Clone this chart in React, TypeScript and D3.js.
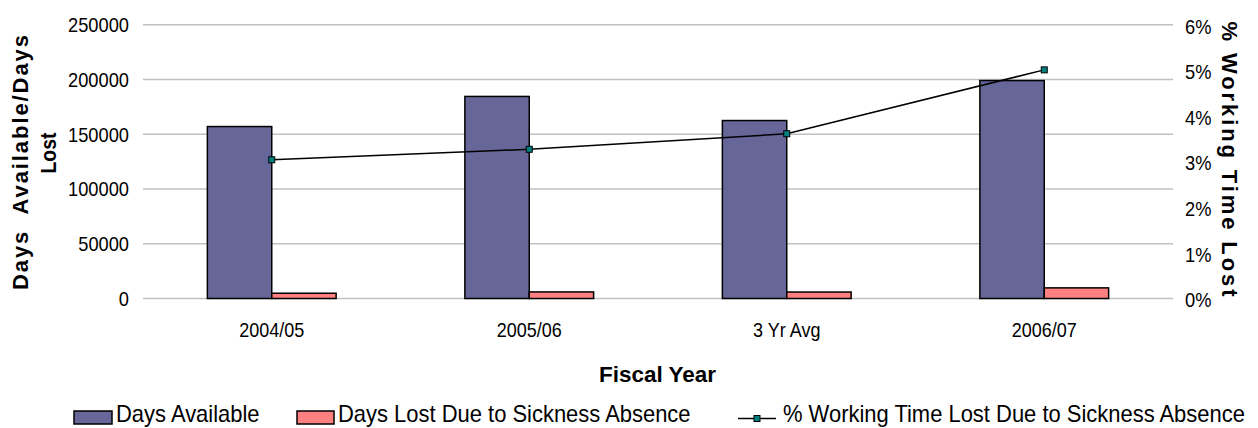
import React, { useEffect, useRef } from "react";
import * as d3 from "d3";

const categories = ["2004/05", "2005/06", "3 Yr Avg", "2006/07"];
const daysAvailable = [157000, 184500, 162500, 199000];
const daysLost = [4800, 6000, 5900, 9700];
const pctLost = [0.0304, 0.0327, 0.0361, 0.0501];
const leftTicks = [0, 50000, 100000, 150000, 200000, 250000];
const rightTicks = [0, 0.01, 0.02, 0.03, 0.04, 0.05, 0.06];

const W = 1258;
const H = 428;
const FONT = "'Liberation Sans', Arial, sans-serif";
const BLUE = "#666699";
const PINK = "#FF8080";
const TEAL = "#008080";

const App: React.FC = () => {
  const ref = useRef<SVGSVGElement | null>(null);

  useEffect(() => {
    if (!ref.current) return;
    document.body.style.margin = "0";
    const svg = d3.select(ref.current);
    svg.selectAll("*").remove();

    const plot = { left: 143, right: 1173, top: 24.7, bottom: 298.5 };

    const x = d3
      .scaleBand<string>()
      .domain(categories)
      .range([plot.left, plot.right])
      .paddingInner(0.5)
      .paddingOuter(0.25);
    const sub = d3
      .scaleBand<string>()
      .domain(["avail", "lost"])
      .range([0, x.bandwidth()]);
    const y = d3.scaleLinear().domain([0, 250000]).range([plot.bottom, plot.top]);
    const y2 = d3.scaleLinear().domain([0, 0.06]).range([plot.bottom, plot.top]);

    // narrow-ish text like the Excel original: scale glyphs horizontally
    const narrowText = (
      px: number,
      py: number,
      label: string,
      size: number,
      sx: number,
      anchor = "start",
      dy = "0"
    ) => {
      svg
        .append("g")
        .attr("transform", `translate(${px},${py}) scale(${sx},1)`)
        .append("text")
        .attr("text-anchor", anchor)
        .attr("dy", dy)
        .style("font-family", FONT)
        .style("font-size", `${size}px`)
        .text(label);
    };

    // gridlines
    svg
      .append("g")
      .selectAll("line")
      .data(leftTicks)
      .join("line")
      .attr("x1", plot.left)
      .attr("x2", plot.right)
      .attr("y1", (d) => y(d))
      .attr("y2", (d) => y(d))
      .attr("stroke", "#c0c0c0")
      .attr("stroke-width", 1.6);

    // tick labels
    leftTicks.forEach((t) => narrowText(129, y(t), String(t), 21, 0.87, "end", "0.35em"));
    rightTicks.forEach((t) =>
      narrowText(1185, y2(t) + 1.5, `${Math.round(t * 100)}%`, 21, 0.87, "start", "0.35em")
    );

    // bars
    const bars = svg.append("g");
    categories.forEach((c, i) => {
      const x0 = x(c) ?? 0;
      bars
        .append("rect")
        .attr("x", x0 + (sub("avail") ?? 0))
        .attr("y", y(daysAvailable[i]))
        .attr("width", sub.bandwidth())
        .attr("height", y(0) - y(daysAvailable[i]))
        .attr("fill", BLUE)
        .attr("stroke", "#000")
        .attr("stroke-width", 1.5);
      bars
        .append("rect")
        .attr("x", x0 + (sub("lost") ?? 0))
        .attr("y", y(daysLost[i]))
        .attr("width", sub.bandwidth())
        .attr("height", y(0) - y(daysLost[i]))
        .attr("fill", PINK)
        .attr("stroke", "#000")
        .attr("stroke-width", 1.5);
    });

    // line series
    const cx = (c: string) => (x(c) ?? 0) + x.bandwidth() / 2;
    const line = d3
      .line<number>()
      .x((_, i) => cx(categories[i]))
      .y((d) => y2(d));
    svg
      .append("path")
      .datum(pctLost)
      .attr("d", line)
      .attr("fill", "none")
      .attr("stroke", "#000")
      .attr("stroke-width", 1.5);
    svg
      .append("g")
      .selectAll("rect")
      .data(pctLost)
      .join("rect")
      .attr("x", (_, i) => cx(categories[i]) - 3)
      .attr("y", (d) => y2(d) - 3)
      .attr("width", 6)
      .attr("height", 6)
      .attr("fill", TEAL)
      .attr("stroke", "#000")
      .attr("stroke-width", 1);

    // category labels
    categories.forEach((c) => narrowText(cx(c), 337, c, 20, 0.9, "middle"));

    // axis titles
    svg
      .append("text")
      .attr("transform", "translate(28,162.5) rotate(-90)")
      .attr("text-anchor", "middle")
      .attr("textLength", 255)
      .attr("lengthAdjust", "spacing")
      .style("font-family", FONT)
      .style("font-size", "22px")
      .style("font-weight", "bold")
      .style("white-space", "pre")
      .text("Days  Available/Days");
    svg
      .append("text")
      .attr("transform", "translate(56,153) rotate(-90)")
      .attr("text-anchor", "middle")
      .attr("textLength", 41)
      .attr("lengthAdjust", "spacingAndGlyphs")
      .style("font-family", FONT)
      .style("font-size", "22px")
      .style("font-weight", "bold")
      .text("Lost");
    svg
      .append("text")
      .attr("transform", "translate(1222,159) rotate(90)")
      .attr("text-anchor", "middle")
      .attr("textLength", 275)
      .attr("lengthAdjust", "spacing")
      .style("font-family", FONT)
      .style("font-size", "22px")
      .style("font-weight", "bold")
      .text("% Working Time Lost");
    svg
      .append("text")
      .attr("x", 657.5)
      .attr("y", 382)
      .attr("text-anchor", "middle")
      .attr("textLength", 117)
      .attr("lengthAdjust", "spacingAndGlyphs")
      .style("font-family", FONT)
      .style("font-size", "22px")
      .style("font-weight", "bold")
      .text("Fiscal Year");

    // legend
    svg.append("rect")
      .attr("x", 74).attr("y", 411).attr("width", 38).attr("height", 13)
      .attr("fill", BLUE).attr("stroke", "#000").attr("stroke-width", 1.5);
    narrowText(116, 421.5, "Days Available", 23, 0.955);
    svg.append("rect")
      .attr("x", 297).attr("y", 411).attr("width", 37).attr("height", 13)
      .attr("fill", PINK).attr("stroke", "#000").attr("stroke-width", 1.5);
    narrowText(338, 421.5, "Days Lost Due to Sickness Absence", 23, 0.955);
    svg.append("line")
      .attr("x1", 738).attr("x2", 776).attr("y1", 418.5).attr("y2", 418.5)
      .attr("stroke", "#000").attr("stroke-width", 1.5);
    svg.append("rect")
      .attr("x", 754).attr("y", 415.5).attr("width", 6).attr("height", 6)
      .attr("fill", TEAL).attr("stroke", "#000").attr("stroke-width", 1);
    narrowText(783, 421.5, "% Working Time Lost Due to Sickness Absence", 23, 0.955);
  }, []);

  return <svg ref={ref} width={W} height={H} style={{ display: "block" }}></svg>;
};

export default App;
